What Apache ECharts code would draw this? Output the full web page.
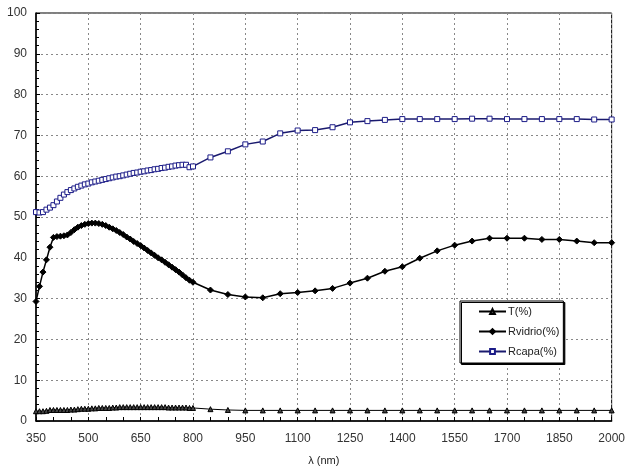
<!DOCTYPE html>
<html>
<head>
<meta charset="utf-8">
<title>T / Rvidrio / Rcapa</title>
<script src="https://cdn.jsdelivr.net/npm/echarts@6/dist/echarts.min.js"></script>
<style>
    html, body { margin: 0; padding: 0; background: #fff; }
    #chart { width: 628px; height: 471px; }
</style>
</head>
<body>
<div id="chart"></div>
<script>
// longitud de onda (nm)
var lambda = [350, 360, 370, 380, 390, 400, 410, 420, 430, 440, 450, 460, 470, 480, 490, 500,
    510, 520, 530, 540, 550, 560, 570, 580, 590, 600, 610, 620, 630, 640, 650, 660, 670, 680,
    690, 700, 710, 720, 730, 740, 750, 760, 770, 780, 790, 800,
    850, 900, 950, 1000, 1050, 1100, 1150, 1200, 1250, 1300, 1350, 1400, 1450, 1500, 1550,
    1600, 1650, 1700, 1750, 1800, 1850, 1900, 1950, 2000];

var tPct = [2.4, 2.4, 2.4, 2.5, 2.7, 2.7, 2.7, 2.7, 2.7, 2.7, 2.8, 2.8, 2.9, 3.0, 3.0, 3.0,
    3.1, 3.1, 3.2, 3.2, 3.2, 3.2, 3.3, 3.3, 3.4, 3.4, 3.4, 3.4, 3.4, 3.4, 3.4, 3.4, 3.4, 3.4,
    3.4, 3.4, 3.4, 3.4, 3.3, 3.3, 3.3, 3.3, 3.3, 3.3, 3.2, 3.2,
    2.9, 2.7, 2.6, 2.6, 2.6, 2.6, 2.6, 2.6, 2.6, 2.6, 2.6, 2.6, 2.6, 2.6, 2.6,
    2.6, 2.6, 2.6, 2.6, 2.6, 2.6, 2.6, 2.6, 2.6];

var rVidrio = [29.3, 33.0, 36.5, 39.5, 42.6, 45.0, 45.2, 45.3, 45.4, 45.6, 46.2, 46.9, 47.5, 47.9, 48.2, 48.4,
    48.5, 48.5, 48.4, 48.2, 47.9, 47.5, 47.1, 46.7, 46.2, 45.7, 45.1, 44.6, 44.0, 43.5, 43.0, 42.4, 41.8, 41.2,
    40.6, 40.0, 39.5, 38.9, 38.3, 37.7, 37.1, 36.5, 35.8, 35.1, 34.5, 34.0,
    32.1, 31.0, 30.4, 30.2, 31.2, 31.5, 31.9, 32.5, 33.8, 35.0, 36.7, 37.8, 39.9, 41.7, 43.1,
    44.1, 44.8, 44.8, 44.8, 44.5, 44.5, 44.1, 43.7, 43.7];

var rCapa = [51.2, 51.1, 51.2, 51.8, 52.3, 52.9, 53.8, 54.7, 55.5, 56.1, 56.6, 57.0, 57.4, 57.7, 58.0, 58.2,
    58.5, 58.7, 58.9, 59.1, 59.3, 59.5, 59.7, 59.9, 60.0, 60.2, 60.4, 60.6, 60.8, 60.9, 61.1, 61.2, 61.4, 61.5,
    61.7, 61.8, 62.0, 62.1, 62.3, 62.4, 62.6, 62.7, 62.8, 62.8, 62.2, 62.4,
    64.6, 66.1, 67.8, 68.5, 70.5, 71.2, 71.3, 72.0, 73.2, 73.5, 73.8, 74.0, 74.0, 74.0, 74.0,
    74.1, 74.1, 74.0, 74.0, 74.0, 74.0, 74.0, 73.9, 73.9];

var seriesNames = ['T(%)', 'Rvidrio(%)', 'Rcapa(%)'];

function pairs(ys) {
    var out = [];
    for (var i = 0; i < lambda.length; i++) out.push([lambda[i], ys[i]]);
    return out;
}

var chart = echarts.init(document.getElementById('chart'), null, { renderer: 'canvas' });

var font = 'Liberation Sans, Arial, sans-serif';
var gridLine = { show: true, lineStyle: { color: '#888', type: [2, 3], width: 1 } };

var option = {
    animation: false,
    backgroundColor: '#fff',
    textStyle: { fontFamily: font },
    grid: {
        left: 36, right: 11, top: 13, bottom: 49,
        show: true, borderColor: '#000', borderWidth: 1, backgroundColor: 'transparent'
    },
    legend: {
        data: seriesNames,
        orient: 'vertical',
        left: 460, top: 301,
        padding: [5, 4, 6, 18],
        itemGap: 9,
        itemWidth: 27, itemHeight: 6,
        backgroundColor: '#fff',
        borderColor: '#000', borderWidth: 1,
        shadowColor: '#000', shadowBlur: 0, shadowOffsetX: 1.5, shadowOffsetY: 1.5,
        textStyle: { fontFamily: font, fontSize: 11, color: '#222', padding: [0, 0, 0, -3] }
    },
    xAxis: {
        type: 'value',
        min: 350, max: 2000, interval: 150,
        name: 'λ (nm)',
        nameLocation: 'middle',
        nameGap: 34,
        nameTextStyle: { fontFamily: font, fontSize: 11, color: '#222' },
        axisLine: { show: true, onZero: false, lineStyle: { color: '#000', width: 1.5 } },
        axisTick: { show: true, inside: true, length: 4, lineStyle: { color: '#000' } },
        minorTick: { show: true, splitNumber: 3, length: 4, lineStyle: { color: '#000' } },
        axisLabel: {
            fontFamily: font, fontSize: 12, color: '#333', margin: 12,
            formatter: function (v) { return String(v); }
        },
        splitLine: gridLine
    },
    yAxis: {
        type: 'value',
        min: 0, max: 100, interval: 10,
        axisLine: { show: true, lineStyle: { color: '#000', width: 1.5 } },
        axisTick: { show: true, inside: true, length: 4, lineStyle: { color: '#000' } },
        minorTick: { show: true, splitNumber: 5, length: 3, lineStyle: { color: '#000' } },
        axisLabel: { fontFamily: font, fontSize: 12, color: '#333', margin: 9 },
        splitLine: gridLine
    },
    series: [
        {
            name: seriesNames[0], type: 'line', data: pairs(tPct),
            symbol: 'triangle', symbolSize: 5,
            lineStyle: { color: '#000', width: 1 },
            itemStyle: { color: '#444', borderColor: '#000', borderWidth: 1 }
        },
        {
            name: seriesNames[1], type: 'line', data: pairs(rVidrio),
            symbol: 'diamond', symbolSize: 6,
            lineStyle: { color: '#000', width: 1.5 },
            itemStyle: { color: '#000', borderColor: '#000', borderWidth: 1 }
        },
        {
            name: seriesNames[2], type: 'line', data: pairs(rCapa),
            symbol: 'rect', symbolSize: 5,
            lineStyle: { color: '#1a1a6e', width: 1.5 },
            itemStyle: { color: '#fff', borderColor: '#1c1c88', borderWidth: 1 }
        }
    ]
};

chart.setOption(option);
</script>
</body>
</html>
